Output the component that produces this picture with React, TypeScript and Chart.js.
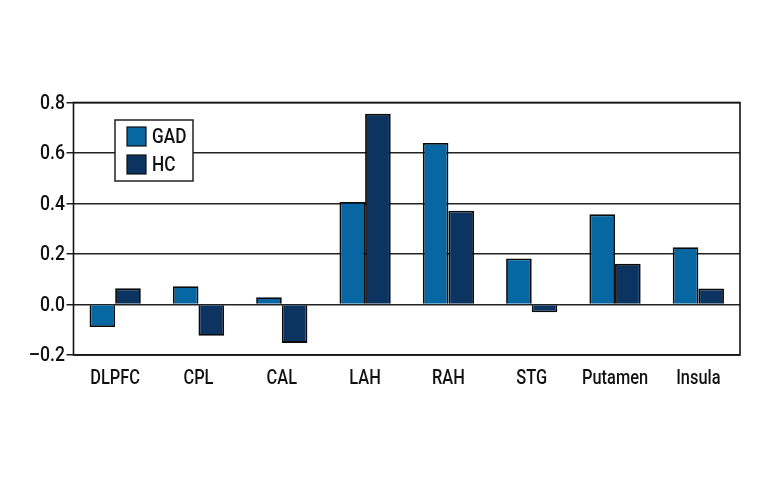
import React, { useEffect, useRef } from "react";
import { Chart, registerables } from "chart.js";

Chart.register(...registerables);

const categories = ["DLPFC", "CPL", "CAL", "LAH", "RAH", "STG", "Putamen", "Insula"];
const gadValues = [-0.089, 0.072, 0.029, 0.406, 0.64, 0.182, 0.357, 0.227];
const hcValues = [0.064, -0.124, -0.152, 0.755, 0.371, -0.031, 0.161, 0.063];
const seriesNames = ["GAD", "HC"];
const yMin = -0.2;
const yMax = 0.8;
const yStep = 0.2;

const FONT = '"Roboto", "Liberation Sans", sans-serif';
const GAD_COLOR = "#0767a2";
const HC_COLOR = "#0b3461";

const fmtY = (v: number) => {
  const n = Math.round(Number(v) * 10) / 10;
  const s = Math.abs(n).toFixed(1);
  return n < 0 ? "\u2013" + s : s;
};

function condensedText(ctx: any, text: string, x: number, y: number, align: "left" | "center" | "right", sx: number) {
  ctx.save();
  ctx.translate(x, y);
  ctx.scale(sx, 1);
  ctx.textAlign = align;
  ctx.fillText(text, 0, 0);
  ctx.restore();
}

const frameAndLegend = {
  id: "frameAndLegend",
  afterDraw(chart: any) {
    const { ctx, chartArea } = chart;
    ctx.save();
    ctx.strokeStyle = "#111";
    ctx.lineWidth = 1.6;
    ctx.strokeRect(chartArea.left, chartArea.top, chartArea.right - chartArea.left, chartArea.bottom - chartArea.top);

    // tick labels (condensed)
    ctx.fillStyle = "#111";
    ctx.textBaseline = "alphabetic";
    ctx.font = `500 21px ${FONT}`;
    const xs = chart.scales.x;
    (chart.data.labels as string[]).forEach((lab: string, i: number) => {
      condensedText(ctx, lab, xs.getPixelForValue(i), chartArea.bottom + 28.5, "center", 0.78);
    });
    const ys = chart.scales.y;
    ctx.textBaseline = "middle";
    ctx.font = `500 20px ${FONT}`;
    ys.ticks.forEach((t: any) => {
      condensedText(ctx, fmtY(t.value), chartArea.left - 8.5, ys.getPixelForValue(t.value) + 1, "right", 0.88);
    });

    // legend
    const lx = chartArea.left + 41.5;
    const ly = chartArea.top + 17.5;
    const w = 78;
    const h = 61;
    ctx.fillStyle = "#fff";
    ctx.fillRect(lx, ly, w, h);
    ctx.lineWidth = 1.5;
    ctx.strokeStyle = "#222";
    ctx.strokeRect(lx, ly, w, h);
    chart.data.datasets.forEach((ds: any, i: number) => {
      const sy = ly + 7 + i * 28;
      ctx.fillStyle = ds.backgroundColor;
      ctx.fillRect(lx + 12, sy, 19, 19);
      ctx.strokeStyle = "#111";
      ctx.lineWidth = 1.2;
      ctx.strokeRect(lx + 12, sy, 19, 19);
      ctx.fillStyle = "#111";
      ctx.font = `500 21px ${FONT}`;
      ctx.textBaseline = "middle";
      condensedText(ctx, ds.label, lx + 37, sy + 10.5, "left", 0.82);
    });
    ctx.restore();
  },
};

export default function App() {
  const ref = useRef<HTMLCanvasElement>(null);
  useEffect(() => {
    document.body.style.margin = "0";
    const chart = new Chart(ref.current!, {
      type: "bar",
      data: {
        labels: categories,
        datasets: [
          {
            label: seriesNames[0],
            data: gadValues,
            backgroundColor: GAD_COLOR,
            borderColor: "#0a0a0a",
            borderWidth: 1.8,
          },
          {
            label: seriesNames[1],
            data: hcValues,
            backgroundColor: HC_COLOR,
            borderColor: "#0a0a0a",
            borderWidth: 1.8,
          },
        ],
      },
      options: {
        animation: false,
        responsive: false,
        maintainAspectRatio: false,
        layout: { padding: { left: 0, right: 28, top: 102.5, bottom: 0 } },
        plugins: { legend: { display: false }, tooltip: { enabled: false } },
        datasets: { bar: { barPercentage: 1, categoryPercentage: 0.615 } },
        scales: {
          x: {
            grid: { display: false, drawTicks: false },
            border: { display: false },
            ticks: { color: "transparent", maxRotation: 0, autoSkip: false, font: { family: FONT, size: 12 } },
            afterFit: (s: any) => {
              s.height = 125;
            },
          },
          y: {
            min: yMin,
            max: yMax,
            grid: { color: "#222", lineWidth: 1.5, tickLength: 7, tickColor: "#222" },
            border: { display: false },
            ticks: {
              stepSize: yStep,
              color: "transparent",
              font: { family: FONT, size: 12 },
              callback: (v: any) => fmtY(v),
            },
            afterFit: (s: any) => {
              s.width = 73.5;
            },
          },
        },
      },
      plugins: [frameAndLegend],
    });
    return () => chart.destroy();
  }, []);
  return <canvas ref={ref} width={768} height={480} style={{ display: "block" }} />;
}
